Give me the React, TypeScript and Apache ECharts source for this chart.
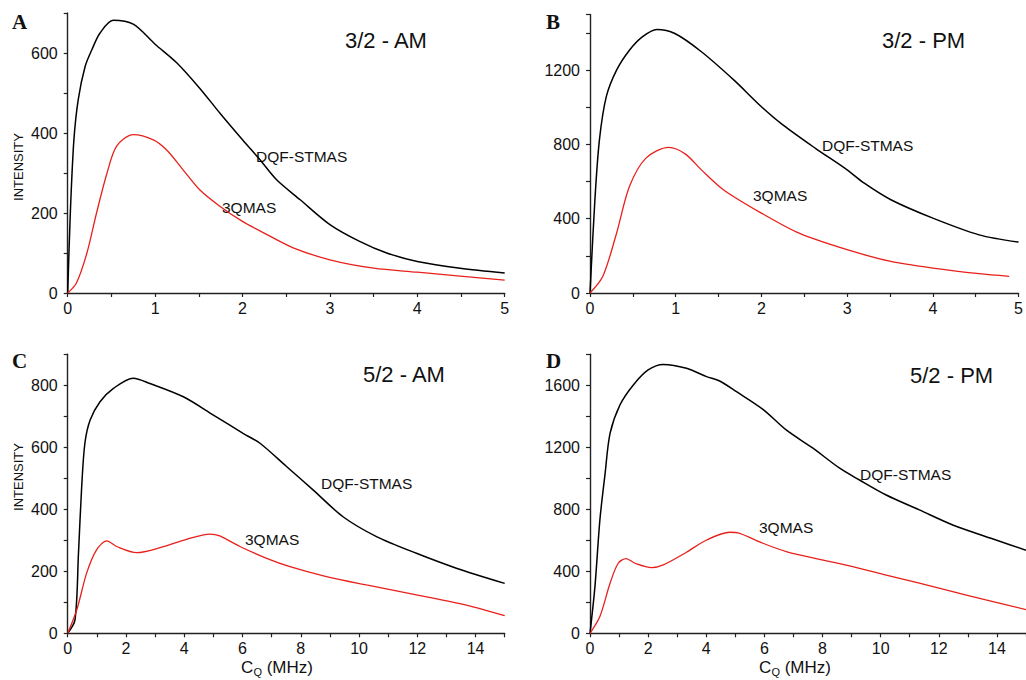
import React, { useEffect, useRef } from "react";
import * as echarts from "echarts";

// Panel A: 3/2 - AM
const aDqfX = [0, 0.03, 0.07, 0.12, 0.2, 0.28, 0.37, 0.52, 0.75, 1.0, 1.25, 1.51, 1.74, 2.0, 2.2, 2.39, 2.66, 3.0, 3.34, 3.65, 4.0, 4.49, 5.0];
const aDqfY = [0, 200, 380, 483, 567, 610, 650, 682, 672, 622, 575, 512, 450, 383, 333, 283, 233, 171, 129, 100, 79, 62, 50];
const aQmasX = [0, 0.1, 0.22, 0.33, 0.45, 0.56, 0.75, 0.98, 1.13, 1.32, 1.51, 1.74, 2.0, 2.28, 2.58, 3.0, 3.5, 4.0, 4.49, 5.0];
const aQmasY = [0, 25, 100, 200, 300, 367, 396, 383, 358, 308, 258, 217, 179, 146, 113, 83, 62, 52, 42, 32];

// Panel B: 3/2 - PM
const bDqfX = [0, 0.057, 0.11, 0.19, 0.31, 0.46, 0.61, 0.78, 0.99, 1.3, 1.68, 2.0, 2.25, 2.63, 3.0, 3.2, 3.51, 4.0, 4.54, 5.0];
const bDqfY = [0, 501, 824, 1057, 1200, 1307, 1379, 1419, 1397, 1299, 1146, 1003, 905, 779, 663, 591, 502, 403, 313, 274];
const bQmasX = [0, 0.15, 0.31, 0.46, 0.65, 0.92, 1.11, 1.3, 1.56, 2.0, 2.44, 3.0, 3.51, 4.0, 4.54, 4.89];
const bQmasY = [0, 90, 322, 573, 725, 784, 749, 663, 555, 430, 322, 233, 170, 134, 104, 90];

// Panel C: 5/2 - AM
const cDqfX = [0, 0.25, 0.37, 0.48, 0.59, 0.77, 1.11, 1.57, 2.25, 2.82, 3.97, 5.0, 6.02, 6.6, 7.51, 8.43, 9.45, 10.6, 11.97, 13.34, 15];
const cDqfY = [0, 43, 258, 473, 613, 688, 747, 790, 823, 806, 763, 704, 645, 613, 538, 462, 376, 312, 258, 210, 161];
const cQmasX = [0, 0.31, 0.65, 0.99, 1.34, 1.68, 2.37, 3.17, 4.08, 4.88, 5.22, 5.91, 6.83, 7.63, 8.88, 10.25, 11.97, 13.68, 15];
const cQmasY = [0, 75, 194, 269, 298, 280, 260, 276, 303, 320, 314, 280, 242, 215, 183, 156, 124, 91, 57];

// Panel D: 5/2 - PM
const dDqfX = [0, 0.17, 0.34, 0.52, 0.69, 1.03, 1.49, 2.0, 2.52, 3.32, 4.01, 4.46, 5.04, 5.95, 6.75, 7.67, 8.59, 9.27, 10.19, 11.33, 12.48, 13.97, 15];
const dDqfY = [0, 301, 731, 1032, 1290, 1473, 1602, 1699, 1735, 1710, 1656, 1628, 1559, 1445, 1312, 1194, 1065, 989, 892, 796, 699, 602, 536];
const dQmasX = [0, 0.34, 0.69, 0.97, 1.24, 1.55, 2.12, 2.52, 3.32, 4.01, 4.81, 5.15, 5.95, 6.75, 7.9, 9.04, 10.19, 11.33, 12.48, 13.62, 15];
const dQmasY = [0, 108, 323, 452, 482, 452, 424, 441, 523, 602, 652, 645, 581, 527, 477, 430, 376, 323, 269, 215, 153];

const panelLetters = ["A", "B", "C", "D"];
const panelTitles = ["3/2 - AM", "3/2 - PM", "5/2 - AM", "5/2 - PM"];
const xMax = [5, 5, 15, 15];
const xInterval = [1, 1, 2, 2];
const yMax = [700, 1500, 900, 1800];
const yInterval = [200, 400, 200, 400];
const dqfName = "DQF-STMAS";
const qmasName = "3QMAS";
const yAxisName = "INTENSITY";

const zip = (xs: number[], ys: number[]) => xs.map((x, i) => [x, ys[i]]);

const FONT = "'Liberation Sans', Arial, sans-serif";

export default function App() {
  const ref = useRef<HTMLDivElement>(null);
  useEffect(() => {
    document.body.style.margin = "0";
    const chart = echarts.init(ref.current!, null, { renderer: "svg" });
    const grids = [
      { left: 67.7, top: 13, width: 437, height: 280 },
      { left: 590, top: 14.4, width: 436.7, height: 278.6 },
      { left: 67.7, top: 354.3, width: 437, height: 279 },
      { left: 590, top: 354.3, width: 436.7, height: 279 },
    ];
    const axisColor = "#222";
    const fmt = (v: number) => String(v);
    const xAxes = grids.map((_, i) => ({
      type: "value",
      gridIndex: i,
      min: 0,
      max: xMax[i],
      interval: xInterval[i],
      axisLine: { lineStyle: { color: axisColor, width: 1.4 } },
      axisTick: { show: true, inside: false, length: 4, lineStyle: { color: axisColor, width: 1.2 } },
      minorTick: { show: true, splitNumber: 2, length: 4, lineStyle: { color: axisColor, width: 1.2 } },
      splitLine: { show: false },
      axisLabel: {
        color: "#111",
        fontSize: 16,
        fontFamily: FONT,
        margin: 7,
        showMaxLabel: i < 2,
        formatter: fmt,
      },
    }));
    const yAxes = grids.map((_, i) => ({
      type: "value",
      gridIndex: i,
      min: 0,
      max: yMax[i],
      interval: yInterval[i],
      axisLine: { show: true, lineStyle: { color: axisColor, width: 1.4 } },
      axisTick: { show: true, inside: false, length: 4, lineStyle: { color: axisColor, width: 1.2 } },
      minorTick: { show: true, splitNumber: 2, length: 4, lineStyle: { color: axisColor, width: 1.2 } },
      splitLine: { show: false },
      axisLabel: {
        color: "#111",
        fontSize: 16,
        fontFamily: FONT,
        margin: 10,
        showMaxLabel: false,
        formatter: fmt,
      },
    }));
    const dqf = [zip(aDqfX, aDqfY), zip(bDqfX, bDqfY), zip(cDqfX, cDqfY), zip(dDqfX, dDqfY)];
    const qmas = [zip(aQmasX, aQmasY), zip(bQmasX, bQmasY), zip(cQmasX, cQmasY), zip(dQmasX, dQmasY)];
    const series: any[] = [];
    for (let i = 0; i < 4; i++) {
      series.push({
        type: "line",
        name: dqfName,
        xAxisIndex: i,
        yAxisIndex: i,
        data: dqf[i],
        smooth: 0.3,
        showSymbol: false,
        lineStyle: { color: "#000", width: 1.5 },
      });
      series.push({
        type: "line",
        name: qmasName,
        xAxisIndex: i,
        yAxisIndex: i,
        data: qmas[i],
        smooth: 0.3,
        showSymbol: false,
        lineStyle: { color: "#e8201c", width: 1.3 },
      });
    }
    const letterPos = [[12, 22], [546, 22], [12, 361], [546, 361]];
    const titlePos = [[345, 40], [882, 40], [363, 374], [910, 375]];
    const dqfPos = [[256, 156], [822, 145], [321, 483], [860, 474]];
    const qmasPos = [[222, 207], [753, 195], [245, 539], [759, 527]];
    const graphic: any[] = [];
    for (let i = 0; i < 4; i++) {
      graphic.push({
        type: "text",
        x: letterPos[i][0],
        y: letterPos[i][1],
        style: {
          text: panelLetters[i],
          font: "bold 21px 'Liberation Serif', 'Times New Roman', serif",
          fill: "#111",
          verticalAlign: "middle",
        },
      });
      graphic.push({
        type: "text",
        x: titlePos[i][0],
        y: titlePos[i][1],
        style: {
          text: panelTitles[i],
          font: `22px ${FONT}`,
          fill: "#111",
          verticalAlign: "middle",
        },
      });
      graphic.push({
        type: "text",
        x: dqfPos[i][0],
        y: dqfPos[i][1],
        style: { text: dqfName, font: `15.5px ${FONT}`, fill: "#111", verticalAlign: "middle" },
      });
      graphic.push({
        type: "text",
        x: qmasPos[i][0],
        y: qmasPos[i][1],
        style: { text: qmasName, font: `15.5px ${FONT}`, fill: "#111", verticalAlign: "middle" },
      });
    }
    [167, 477].forEach((cy) => {
      graphic.push({
        type: "text",
        x: 18,
        y: cy,
        rotation: Math.PI / 2,
        style: {
          text: yAxisName,
          font: `13px ${FONT}`,
          fill: "#111",
          align: "center",
          verticalAlign: "middle",
        },
      });
    });
    [277, 795].forEach((cx) => {
      graphic.push({
        type: "text",
        x: cx,
        y: 667,
        style: {
          text: "{c|C}{q|Q}{c| (MHz)}",
          align: "center",
          verticalAlign: "middle",
          rich: {
            c: { fontSize: 17, fontFamily: FONT, fill: "#111", color: "#111" },
            q: { fontSize: 11, fontFamily: FONT, fill: "#111", color: "#111", padding: [9, 0, 0, 0] },
          },
        },
      });
    });
    chart.setOption({
      animation: false,
      backgroundColor: "#fff",
      grid: grids,
      xAxis: xAxes,
      yAxis: yAxes,
      series,
      graphic,
    });
    return () => chart.dispose();
  }, []);
  return (
    <div
      ref={ref}
      style={{ position: "absolute", left: 0, top: 0, width: 1026, height: 680 }}
    />
  );
}
